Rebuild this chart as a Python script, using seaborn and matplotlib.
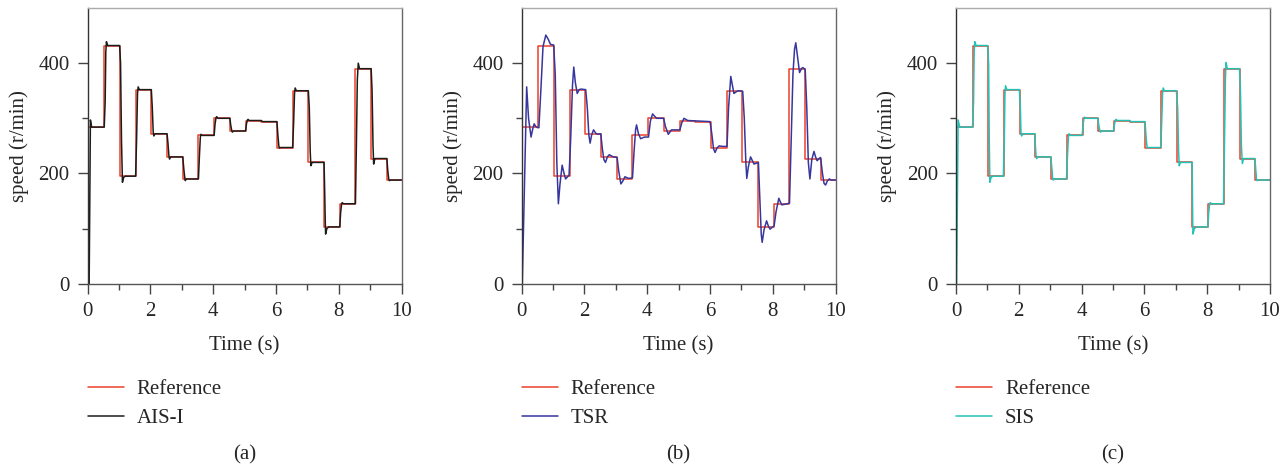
import numpy as np
import pandas as pd
import matplotlib
matplotlib.use("Agg")
import matplotlib.pyplot as plt
import seaborn as sns

# reference speed profile (step changes)
step_times = [0, 0.53, 1.03, 1.53, 2.03, 2.53, 3.03, 3.53, 4.03, 4.53, 5.03,
              5.53, 6.03, 6.53, 7.03, 7.53, 8.03, 8.53, 9.03, 9.53, 10]
step_levels = [284, 432, 195, 352, 272, 230, 190, 269, 300, 277, 296,
               294, 247, 350, 220, 103, 145, 390, 227, 188, 188]

# AIS-I response
ais_t = [0.0, 0.05, 0.09, 0.13, 0.53, 0.56, 0.58, 0.60, 0.64, 1.02, 1.05, 1.08, 1.11, 1.15, 1.20,
         1.53, 1.56, 1.59, 1.61, 1.65, 2.03, 2.06, 2.09, 2.11, 2.15, 2.53, 2.56, 2.59, 2.61, 2.65,
         3.03, 3.07, 3.10, 3.11, 3.15, 3.53, 3.56, 3.59, 3.61, 3.65, 4.03, 4.06, 4.09, 4.11, 4.15,
         4.53, 4.56, 4.59, 4.61, 4.65, 5.03, 5.06, 5.09, 5.11, 5.15, 5.53, 5.57, 6.03, 6.06, 6.09,
         6.11, 6.15, 6.53, 6.56, 6.59, 6.61, 6.65, 7.03, 7.06, 7.09, 7.11, 7.15, 7.53, 7.55, 7.57,
         7.58, 7.62, 7.68, 8.03, 8.06, 8.09, 8.11, 8.15, 8.53, 8.56, 8.59, 8.62, 8.66, 9.03, 9.06,
         9.09, 9.11, 9.15, 9.53, 9.56, 9.59, 9.61, 9.65, 10.0]
ais_v = [0, 0, 297, 284, 284, 330, 420, 439, 432, 432, 400, 260, 184, 193, 195,
         195, 260, 345, 357, 352, 352, 320, 275, 268, 272, 272, 255, 232, 226, 230,
         230, 205, 190, 187, 190, 190, 230, 265, 271, 269, 269, 290, 301, 303, 300,
         300, 287, 278, 275, 277, 277, 290, 297, 298, 296, 296, 294, 294, 270, 250,
         246, 247, 247, 290, 345, 355, 350, 350, 320, 240, 214, 220, 220, 170, 110,
         90, 100, 103, 103, 130, 145, 147, 145, 145, 250, 370, 400, 390, 390, 350,
         250, 217, 227, 227, 205, 190, 187, 188, 188]

# TSR response
tsr_t = [0.0, 0.02, 0.16, 0.22, 0.30, 0.35, 0.40, 0.45, 0.51, 0.55, 0.62, 0.68, 0.77, 0.85, 0.92,
         1.02, 1.07, 1.12, 1.17, 1.22, 1.29, 1.35, 1.40, 1.51, 1.56, 1.62, 1.66, 1.71, 1.77, 1.83,
         1.89, 2.04, 2.09, 2.14, 2.18, 2.23, 2.29, 2.36, 2.42, 2.52, 2.57, 2.62, 2.67, 2.73, 2.79,
         2.92, 3.04, 3.09, 3.16, 3.22, 3.29, 3.40, 3.53, 3.58, 3.63, 3.66, 3.72, 3.79, 3.91, 4.04,
         4.10, 4.17, 4.23, 4.30, 4.52, 4.58, 4.67, 4.77, 5.04, 5.10, 5.17, 5.29, 5.68, 6.00, 6.06,
         6.11, 6.16, 6.22, 6.29, 6.40, 6.54, 6.59, 6.66, 6.71, 6.76, 6.83, 6.90, 7.04, 7.09, 7.14,
         7.17, 7.22, 7.29, 7.35, 7.40, 7.54, 7.59, 7.63, 7.66, 7.72, 7.80, 7.86, 7.91, 8.04, 8.10,
         8.19, 8.24, 8.29, 8.53, 8.58, 8.64, 8.69, 8.73, 8.78, 8.85, 8.91, 8.95, 9.03, 9.08, 9.13,
         9.18, 9.24, 9.31, 9.36, 9.41, 9.47, 9.52, 9.58, 9.63, 9.68, 9.74, 9.80, 9.86, 9.91, 10.0]
tsr_v = [0, 0, 357, 300, 266, 280, 290, 285, 283, 283, 360, 430, 451, 443, 434,
         433, 380, 220, 145, 180, 215, 200, 190, 197, 260, 360, 393, 365, 345, 352,
         353, 352, 320, 270, 255, 270, 279, 273, 271, 272, 245, 225, 220, 230, 234,
         230, 229, 205, 181, 186, 194, 191, 192, 240, 280, 288, 272, 263, 266, 266,
         295, 308, 304, 300, 300, 285, 271, 279, 279, 292, 300, 296, 295, 294, 270,
         245, 238, 246, 250, 249, 249, 320, 376, 360, 345, 348, 350, 349, 300, 220,
         191, 212, 230, 223, 217, 220, 150, 90, 75, 98, 114, 104, 99, 105, 130,
         155, 148, 143, 146, 250, 380, 425, 437, 415, 383, 390, 392, 389, 320, 220,
         190, 225, 240, 230, 223, 227, 229, 200, 182, 179, 187, 190, 188, 188, 188]

# SIS response
sis_t = [0.0, 0.02, 0.07, 0.12, 0.53, 0.56, 0.58, 0.60, 0.64, 1.01, 1.04, 1.06, 1.08, 1.12, 1.18,
         1.51, 1.54, 1.56, 1.58, 1.62, 2.02, 2.05, 2.07, 2.09, 2.13, 2.51, 2.53, 2.55, 2.57, 2.61,
         3.02, 3.06, 3.08, 3.10, 3.14, 3.52, 3.55, 3.58, 3.60, 3.64, 4.02, 4.05, 4.08, 4.10, 4.14,
         4.52, 4.55, 4.58, 4.60, 4.64, 5.02, 5.05, 5.08, 5.10, 5.14, 5.53, 5.57, 6.02, 6.05, 6.08,
         6.10, 6.14, 6.52, 6.55, 6.58, 6.60, 6.64, 7.02, 7.06, 7.09, 7.11, 7.15, 7.52, 7.53, 7.54,
         7.55, 7.59, 7.66, 8.02, 8.05, 8.08, 8.10, 8.14, 8.52, 8.55, 8.58, 8.60, 8.64, 9.03, 9.06,
         9.09, 9.12, 9.16, 9.52, 9.55, 9.57, 9.59, 9.63, 10.0]
sis_v = [0, 0, 297, 284, 284, 330, 420, 439, 432, 432, 400, 260, 184, 193, 195,
         195, 260, 345, 359, 352, 352, 320, 275, 268, 272, 272, 250, 232, 227, 230,
         230, 205, 190, 188, 190, 190, 230, 265, 272, 269, 269, 290, 301, 302, 300,
         300, 287, 278, 275, 277, 277, 290, 297, 298, 296, 296, 294, 294, 270, 250,
         246, 247, 247, 290, 345, 355, 350, 350, 320, 240, 214, 220, 220, 170, 110,
         90, 100, 103, 103, 130, 145, 147, 145, 145, 250, 370, 401, 390, 390, 350,
         250, 218, 227, 227, 205, 190, 187, 188, 188]

panels = [("(a)", "AIS-I", ais_t, ais_v, "#1c1c1c"),
          ("(b)", "TSR", tsr_t, tsr_v, "#36369e"),
          ("(c)", "SIS", sis_t, sis_v, "#22c3b6")]
ref_color = "#ec4129"

sns.set_style("ticks")
plt.rcParams["font.family"] = ["Liberation Serif", "DejaVu Serif"]
plt.rcParams["font.size"] = 15

fig = plt.figure(figsize=(12.88, 4.68), dpi=100)
lefts = [0.068, 0.405, 0.7422]

ref = pd.DataFrame({"t": step_times, "speed": step_levels})

for left, (tag, name, tt, vv, col) in zip(lefts, panels):
    ax = fig.add_axes([left, 0.3938, 0.2438, 0.589])
    resp = pd.DataFrame({"t": tt, "speed": vv})
    sns.lineplot(data=ref, x="t", y="speed", ax=ax, color=ref_color, lw=1.1,
                 drawstyle="steps-post", estimator=None, sort=False, label="Reference")
    sns.lineplot(data=resp, x="t", y="speed", ax=ax, color=col, lw=1.1,
                 estimator=None, sort=False, label=name)

    ax.set_xlim(0, 10)
    ax.set_ylim(0, 500)
    ax.set_xticks([0, 2, 4, 6, 8, 10])
    ax.set_xticks([1, 3, 5, 7, 9], minor=True)
    ax.set_yticks([0, 200, 400])
    ax.set_yticks([100, 300], minor=True)
    ax.tick_params(which="major", direction="out", length=7, width=1.0,
                   color="#444444", pad=6, labelsize=15)
    ax.tick_params(which="minor", direction="out", length=4, width=1.0, color="#444444")
    ax.set_xlabel("Time (s)", fontsize=15, labelpad=11)
    ax.set_ylabel("speed (r/min)", fontsize=15, labelpad=7)

    ax.spines["left"].set_color("#333333")
    ax.spines["bottom"].set_color("#555555")
    ax.spines["right"].set_color("#666666")
    ax.spines["top"].set_color("#aaaaaa")
    for s in ax.spines.values():
        s.set_linewidth(1.0)

    ax.legend(loc="center left", bbox_to_anchor=(0, -0.437), frameon=False,
              borderaxespad=0, borderpad=0, handlelength=1.75, handletextpad=0.6,
              labelspacing=0.45, fontsize=15)
    ax.text(0.5, -0.621, tag, transform=ax.transAxes, ha="center", va="center", fontsize=15)

fig.savefig("out.png", dpi=100)
